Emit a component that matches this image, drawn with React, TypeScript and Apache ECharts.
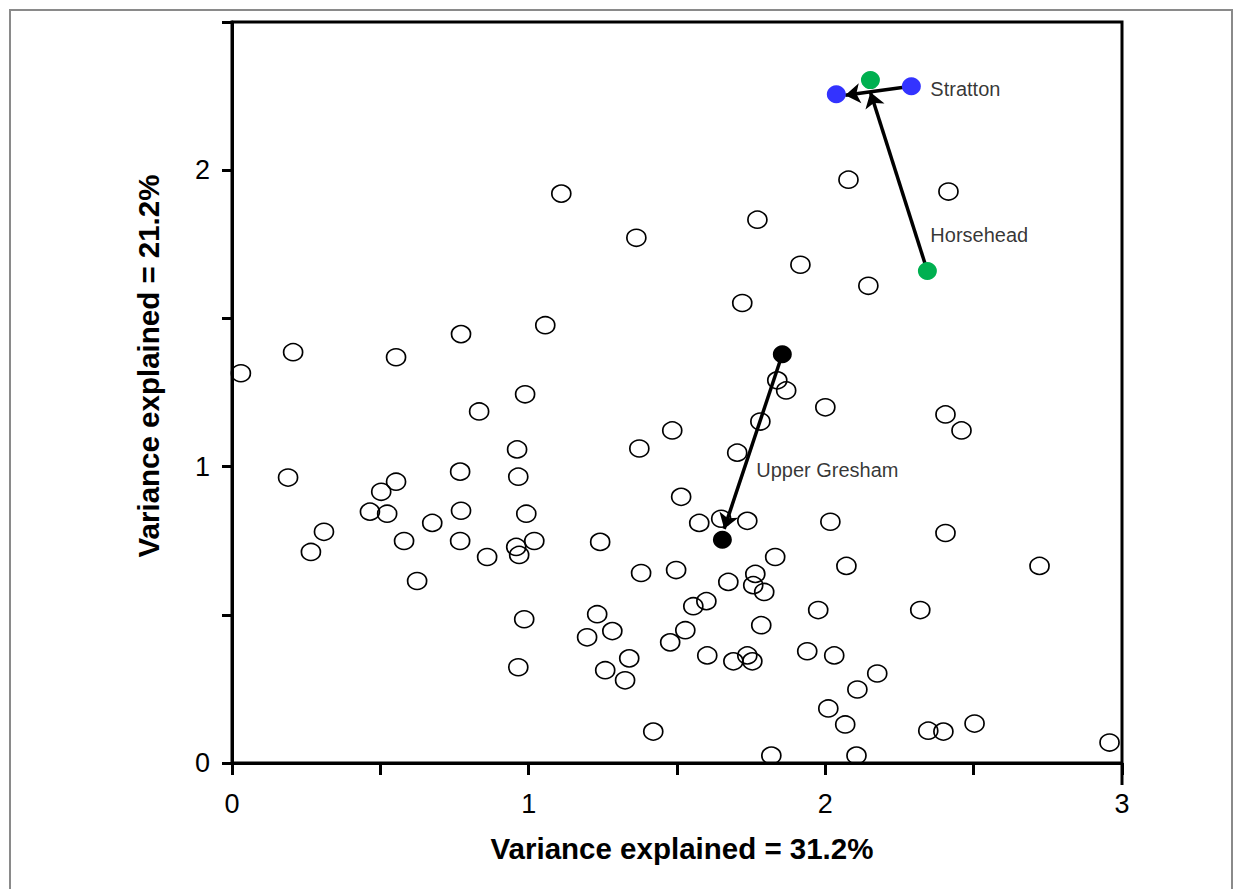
import React, { useEffect, useRef } from 'react';
import * as echarts from 'echarts';

// Open circles (all other sites)
const openX = [
  1.110, 2.078, 2.415, 1.771, 1.363, 1.916, 2.145, 1.720, 1.056, 0.772,
  0.206, 0.553, 0.030, 1.838, 1.868, 0.988, 0.833, 2.000, 2.405, 2.459,
  1.781, 1.484, 1.373, 0.961, 1.703, 0.769, 0.189, 0.965, 1.514, 0.503,
  0.553, 0.465, 0.523, 0.772, 0.992, 0.675, 1.649, 1.575, 1.737, 2.017,
  2.405, 0.266, 0.310, 0.580, 0.769, 0.958, 0.968, 0.860, 1.019, 1.241,
  1.831, 1.379, 1.497, 1.673, 1.764, 1.757, 1.794, 2.071, 2.722, 0.624,
  1.976, 2.320, 0.985, 1.231, 1.555, 1.599, 1.197, 1.282, 1.784, 1.477,
  1.528, 1.939, 2.030, 1.602, 1.737, 1.754, 1.690, 0.965, 1.258, 1.339,
  1.325, 2.175, 2.108, 2.010, 2.067, 2.105, 1.818, 1.420, 2.347, 2.398,
  2.503, 2.958,
];
const openY = [
  1.921, 1.968, 1.928, 1.833, 1.772, 1.681, 1.610, 1.552, 1.477, 1.447,
  1.386, 1.369, 1.315, 1.291, 1.257, 1.244, 1.186, 1.200, 1.176, 1.122,
  1.152, 1.122, 1.061, 1.058, 1.047, 0.983, 0.963, 0.966, 0.898, 0.915,
  0.949, 0.848, 0.841, 0.851, 0.841, 0.810, 0.824, 0.810, 0.817, 0.814,
  0.776, 0.712, 0.780, 0.749, 0.749, 0.729, 0.702, 0.695, 0.749, 0.746,
  0.695, 0.641, 0.651, 0.611, 0.638, 0.600, 0.577, 0.665, 0.665, 0.614,
  0.516, 0.516, 0.485, 0.502, 0.529, 0.546, 0.424, 0.445, 0.465, 0.407,
  0.448, 0.377, 0.363, 0.363, 0.363, 0.343, 0.343, 0.323, 0.313, 0.353,
  0.279, 0.302, 0.248, 0.184, 0.130, 0.025, 0.025, 0.106, 0.109, 0.106,
  0.133, 0.069,
];

// Highlighted sites: start and end positions, arrow tips, label anchors
const siteNames = ['Upper Gresham', 'Horsehead', 'Stratton'];
const startX = [1.855, 2.344, 2.290];
const startY = [1.379, 1.660, 2.283];
const endX = [1.653, 2.152, 2.037];
const endY = [0.753, 2.304, 2.256];
const tipX = [1.659, 2.152, 2.067];
const tipY = [0.790, 2.263, 2.253];
const labelX = [1.767, 2.354, 2.354];
const labelY = [0.990, 1.782, 2.273];

const majorTicks = [0, 1, 2, 3];
const xTitle = 'Variance explained = 31.2%';
const yTitle = 'Variance explained = 21.2%';

const siteColors = ['#000000', '#00B050', '#3333FF'];
const FONT = '"Liberation Sans", Arial, Helvetica, sans-serif';

export default function App() {
  const ref = useRef<HTMLDivElement>(null);
  useEffect(() => {
    if (!ref.current) return;
    const chart = echarts.init(ref.current, null, { renderer: 'svg' });

    const openData = openX.map((x, i) => [x, openY[i]]);
    const filledData: any[] = [];
    siteNames.forEach((n, i) => {
      filledData.push({ value: [startX[i], startY[i]], itemStyle: { color: siteColors[i], opacity: 1 } });
      filledData.push({ value: [endX[i], endY[i]], itemStyle: { color: siteColors[i], opacity: 1 } });
    });
    const arrowData = siteNames.map((n, i) => ({
      coords: [[startX[i], startY[i]], [tipX[i], tipY[i]]],
    }));
    const labelData = siteNames.map((n, i) => ({ name: n, value: [labelX[i], labelY[i]] }));

    const fmt = (v: number) => (majorTicks.includes(v) ? String(v) : '');

    chart.setOption({
      animation: false,
      backgroundColor: '#ffffff',
      grid: {
        left: 232,
        right: 120,
        top: 22,
        bottom: 126,
        show: true,
        borderColor: '#000',
        borderWidth: 3,
      },
      xAxis: {
        type: 'value',
        min: 0,
        max: 3,
        interval: 0.5,
        axisLine: { show: true, onZero: false, lineStyle: { color: '#000', width: 3 } },
        axisTick: { show: true, length: 12, lineStyle: { color: '#000', width: 3 } },
        axisLabel: { formatter: fmt, fontSize: 27, color: '#000', fontFamily: FONT, margin: 27 },
        splitLine: { show: false },
      },
      yAxis: {
        type: 'value',
        min: 0,
        max: 2.5,
        interval: 0.5,
        axisLine: { show: true, onZero: false, lineStyle: { color: '#000', width: 3 } },
        axisTick: { show: true, length: 10, lineStyle: { color: '#000', width: 3 } },
        axisLabel: { formatter: fmt, fontSize: 27, color: '#000', fontFamily: FONT, margin: 22 },
        splitLine: { show: false },
      },
      graphic: [
        {
          type: 'rect',
          z: -10,
          shape: { x: 10, y: 10, width: 1222, height: 900 },
          style: { fill: 'none', stroke: '#8a8a8a', lineWidth: 2 },
        },
        {
          type: 'line',
          shape: { x1: 1122, y1: 763, x2: 1122, y2: 785 },
          style: { stroke: '#000', lineWidth: 3 },
        },
        {
          type: 'text',
          x: 682,
          y: 848,
          style: {
            text: xTitle,
            fontSize: 29.5,
            fontWeight: 'bold',
            fontFamily: FONT,
            fill: '#000',
            align: 'center',
            verticalAlign: 'middle',
          },
        },
        {
          type: 'text',
          x: 148,
          y: 366,
          rotation: Math.PI / 2,
          style: {
            text: yTitle,
            fontSize: 29.5,
            fontWeight: 'bold',
            fontFamily: FONT,
            fill: '#000',
            align: 'center',
            verticalAlign: 'middle',
          },
        },
      ],
      series: [
        {
          type: 'scatter',
          name: 'sites',
          data: openData,
          symbol: 'circle',
          symbolSize: [19, 17],
          itemStyle: { color: 'rgba(255,255,255,0)', borderColor: '#000', borderWidth: 1.6, opacity: 1 },
          z: 2,
        },
        {
          type: 'lines',
          coordinateSystem: 'cartesian2d',
          data: arrowData,
          symbol: ['none', 'arrow'],
          symbolSize: 15,
          lineStyle: { color: '#000', width: 3.5, opacity: 1 },
          z: 3,
        },
        {
          type: 'scatter',
          name: 'highlighted',
          data: filledData,
          symbol: 'circle',
          symbolSize: [19, 18],
          z: 4,
        },
        {
          type: 'scatter',
          name: 'labels',
          data: labelData,
          symbolSize: 0,
          label: {
            show: true,
            position: 'right',
            distance: 0,
            formatter: (p: any) => p.name,
            fontSize: 20,
            color: '#000',
            fontFamily: FONT,
          },
          z: 5,
        },
      ],
    });
    return () => chart.dispose();
  }, []);

  return (
    <div
      ref={ref}
      style={{ position: 'fixed', left: 0, top: 0, width: 1242, height: 889, background: '#fff' }}
    />
  );
}
